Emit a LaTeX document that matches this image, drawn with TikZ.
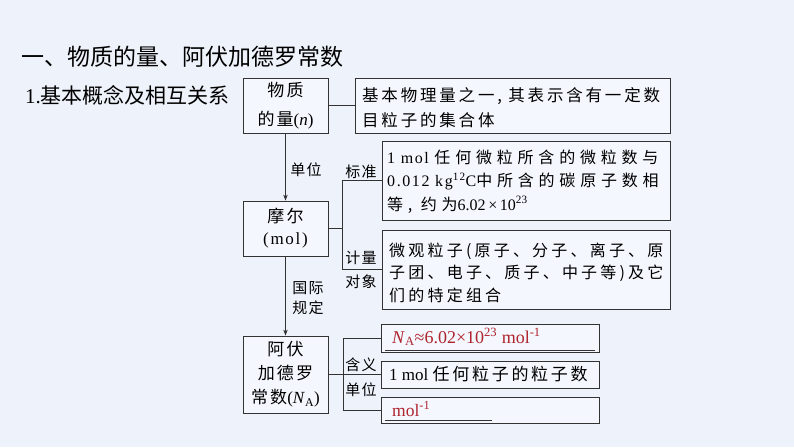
\documentclass[tikz,border=0pt]{standalone}
\usepackage{fontspec}
\usetikzlibrary{arrows.meta}
\setmainfont{Noto Sans CJK SC}
\newfontfamily\latf{Liberation Serif}
\newfontfamily\latfB{Liberation Serif}[LetterSpace=10]
\newfontfamily\zhA{Noto Sans CJK SC}[LetterSpace=17]
\newfontfamily\zhB{Noto Sans CJK SC}[LetterSpace=30]
\newfontfamily\zhC{Noto Sans CJK SC}[LetterSpace=20]
\newfontfamily\zhD{Noto Sans CJK SC}[LetterSpace=16]
\newfontfamily\zhE{Noto Sans CJK SC}[LetterSpace=12]
\newfontfamily\zhL{Noto Sans CJK SC}[LetterSpace=8]
\newcommand\latx[1]{{\latf #1}}
\newcommand\latsp[1]{{\latfB #1}}
\definecolor{bgc}{HTML}{EEF3FB}
\definecolor{boxc}{HTML}{F4F7FD}
\definecolor{redc}{RGB}{175,35,45}
\definecolor{linec}{HTML}{333333}
\begin{document}
\begin{tikzpicture}[x=1pt,y=-1pt,
  lbox/.style={draw=linec, line width=0.8pt, fill=boxc, minimum width=85, align=center, inner sep=0pt},
  rbox/.style={draw=linec, line width=0.8pt, fill=boxc, inner sep=0pt},
  txt/.style={inner sep=0pt, anchor=west, align=left},
  lab/.style={inner sep=0pt, font=\zhL\fontsize{15}{18}\selectfont},
  conn/.style={draw=linec, line width=0.9pt},
  arr/.style={conn, -{Stealth[length=6pt,width=4.5pt]}},
  uline/.style={draw=linec, line width=0.8pt},
]
\fill[bgc] (0,0) rectangle (794,447);
\useasboundingbox (0,0) rectangle (794,447);

% titles
\node[anchor=west, inner sep=0pt, font=\fontsize{23}{23}\selectfont] (title) at (21,57) {一、物质的量、阿伏加德罗常数};
\node[anchor=west, inner sep=0pt, font=\fontsize{21}{21}\selectfont] (sub) at (25,95) {\latx{1.}基本概念及相互关系};

% left boxes
\node[lbox, minimum height=55, font=\zhE\fontsize{17}{29}\selectfont] (A) at (285.5,105.5) {物质\\的量\latx{(\textit{n})}};
\node[lbox, minimum height=55, font=\zhE\fontsize{17}{22}\selectfont] (M) at (285.5,228.5) {摩尔\\\latsp{(mol)}};
\node[lbox, minimum height=77, font=\zhE\fontsize{17}{24}\selectfont] (N) at (285.5,374.5) {阿伏\\加德罗\\常数\latx{(\textit{N}\textsubscript{A})}};

% right boxes
\node[rbox, minimum width=315, minimum height=55] (B1) at (512.5,105.5) {};
\node[txt, font=\zhA\fontsize{16.5}{25}\selectfont] (B1t) at (362,107.5) {基本物理量之一, 其表示含有一定数\\目粒子的集合体};

\node[rbox, minimum width=288, minimum height=79] (B2) at (526,180.5) {};
\node[txt, font=\zhB\fontsize{16}{23.5}\selectfont] (B2t) at (387,181.5) {\latsp{1 mol }任何微粒所含的微粒数与\\\latsp{0.012 kg\textsuperscript{12}C}中所含的碳原子数相\\等, 约为\latx{6.02\,×\,10\textsuperscript{23}}};

\node[rbox, minimum width=288, minimum height=79] (B3) at (526,269.5) {};
\node[txt, font=\zhC\fontsize{16}{22.5}\selectfont] (B3t) at (389,272.5) {微观粒子(原子、分子、离子、原\\子团、电子、质子、中子等)及它\\们的特定组合};

\node[rbox, minimum width=218, minimum height=28] (C1) at (490,338) {};
\node[txt, text=redc, font=\latf\fontsize{18}{20}\selectfont] (C1t) at (392,337) {\textit{N}\textsubscript{A}≈6.02×10\textsuperscript{23} mol\textsuperscript{-1}};
\coordinate (u1a) at (385,350.5);
\coordinate (u1b) at (595,350.5);
\draw[uline] (u1a) -- (u1b);

\node[rbox, minimum width=218, minimum height=27] (C2) at (490,374.5) {};
\node[txt, font=\zhD\fontsize{17}{20}\selectfont] (C2t) at (389,374.5) {\latx{1 mol }任何粒子的粒子数};

\node[rbox, minimum width=218, minimum height=26] (C3) at (490,410) {};
\node[txt, text=redc, font=\latf\fontsize{17.5}{20}\selectfont] (C3t) at (392,409) {mol\textsuperscript{-1}};
\coordinate (u3a) at (385,420.5);
\coordinate (u3b) at (492,420.5);
\draw[uline] (u3a) -- (u3b);

% connectors
\draw[conn] (A.east) -- (B1.west);
\draw[arr] (A.south) -- (M.north);
\node[lab] (l1) at (306,170) {单位};

\coordinate (k1) at (342,0);
\draw[conn] (M.east) -- (M.east -| k1);
\draw[conn] (B2.west) -- (B2.west -| k1) -- (B3.west -| k1) -- (B3.west);
\node[lab] (l2) at (361,172) {标准};
\node[lab] (l3) at (361,258) {计量};
\node[lab] (l4) at (361,282) {对象};

\draw[arr] (M.south) -- (N.north);
\node[lab] (l5) at (308,288) {国际};
\node[lab] (l6) at (308,308) {规定};

\coordinate (k2) at (343,0);
\draw[conn] (N.east) -- (C2.west);
\draw[conn] (C1.west) -- (C1.west -| k2) -- (C3.west -| k2) -- (C3.west);
\node[lab] (l7) at (361,365) {含义};
\node[lab] (l8) at (361,390) {单位};
\end{tikzpicture}
\end{document}
